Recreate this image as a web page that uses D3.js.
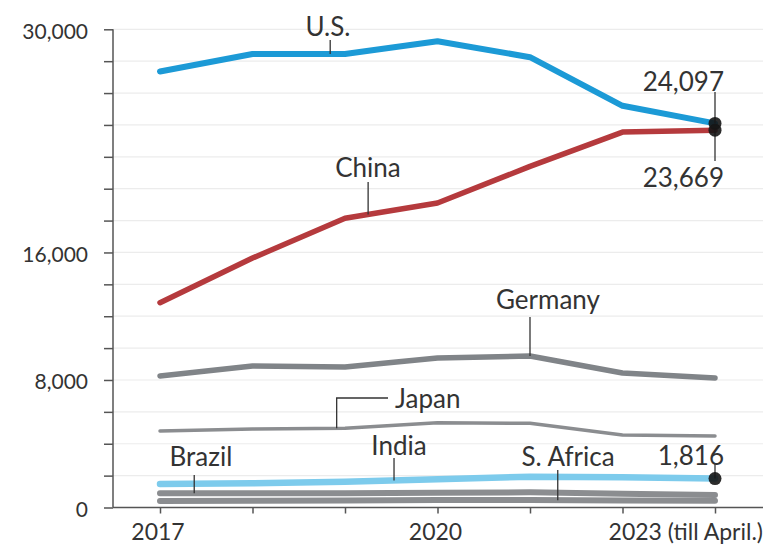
<!DOCTYPE html>
<html>
<head>
<meta charset="utf-8">
<script src="https://cdn.jsdelivr.net/npm/d3@7"></script>
<style>
  html, body { margin: 0; padding: 0; background: #fff; }
  svg { display: block; }
  text { font-family: Lato, "Noto Sans", sans-serif; fill: #333; }
</style>
</head>
<body>
<svg id="chart" width="767" height="547"></svg>
<script>
// Years on the x axis
const years = [2017, 2018, 2019, 2020, 2021, 2022, 2023];

// Series values per year
const usValues      = [27350, 28450, 28450, 29250, 28250, 25200, 24097];
const chinaValues   = [12850, 15650, 18150, 19100, 21400, 23550, 23669];
const germanyValues = [8250, 8880, 8820, 9380, 9500, 8440, 8130];
const japanValues   = [4800, 4920, 4970, 5320, 5280, 4550, 4480];
const indiaValues   = [1470, 1520, 1620, 1770, 1930, 1890, 1816];
const brazilValues  = [890, 900, 900, 920, 950, 860, 780];
const safricaValues = [410, 430, 440, 470, 470, 440, 430];

// Axis tick labels
const yTickValues = [0, 8000, 16000, 30000];
const xTickLabels = ["2017", "2020", "2023 (till April.)"];

const svg = d3.select("#chart");

const x = d3.scaleLinear().domain([2017, 2023]).range([160, 715]);
const y = d3.scaleLinear().domain([0, 30000]).range([507.5, 29.3]);

const axisLeftX = 113, axisRightX = 763;

// light grid every 2,000
const gridVals = d3.range(2000, 30001, 2000);
svg.append("g").selectAll("line").data(gridVals).join("line")
  .attr("x1", axisLeftX).attr("x2", axisRightX)
  .attr("y1", d => y(d)).attr("y2", d => y(d))
  .attr("stroke", "#ececec").attr("stroke-width", 1.2);

// y axis
const yAxis = d3.axisLeft(y)
  .tickValues(d3.range(0, 30001, 2000))
  .tickSize(9)
  .tickFormat(d => yTickValues.includes(d) ? d3.format(",")(d) : "");
const gy = svg.append("g").attr("transform", `translate(${axisLeftX},0)`).call(yAxis);
gy.select(".domain").attr("stroke", "#555").attr("stroke-width", 1.5)
  .attr("d", `M0,${y(30000)}V${y(0)}`);
gy.selectAll(".tick line").attr("stroke", "#555").attr("stroke-width", 1.5);
gy.selectAll(".tick text").attr("x", -25).attr("dy", "0.42em")
  .style("font-size", "21px").style("font-family", "Lato, sans-serif").attr("fill", "#333");

// x axis
const gx = svg.append("g").attr("transform", `translate(0,${y(0)})`)
  .call(d3.axisBottom(x).tickValues(years).tickSize(6).tickFormat(""));
gx.select(".domain").attr("stroke", "#555").attr("stroke-width", 1.5)
  .attr("d", `M${axisLeftX},0H${axisRightX}`);
gx.selectAll(".tick line").attr("stroke", "#555").attr("stroke-width", 1.5);

const xLabelYears = [2017, 2020, 2023];
xLabelYears.forEach((yr, i) => {
  const last = i === xLabelYears.length - 1;
  svg.append("text")
    .attr("x", last ? axisRightX : x(yr) - 2)
    .attr("y", 531)
    .attr("text-anchor", last ? "end" : "middle")
    .attr("dominant-baseline", "central")
    .style("font-size", "23px")
    .text(xTickLabels[i]);
});

// lines
const line = d3.line().x((d, i) => x(years[i])).y(d => y(d));

const series = [
  { name: "S. Africa", values: safricaValues, color: "#8b8d90", width: 6 },
  { name: "Brazil",    values: brazilValues,  color: "#8b8d90", width: 6 },
  { name: "Japan",     values: japanValues,   color: "#8b8d90", width: 3.5 },
  { name: "Germany",   values: germanyValues, color: "#808488", width: 5.5 },
  { name: "India",     values: indiaValues,   color: "#7dcbec", width: 6.5 },
  { name: "China",     values: chinaValues,   color: "#b53a3d", width: 5.5 },
  { name: "U.S.",      values: usValues,      color: "#1c9ad6", width: 6 }
];

svg.append("g").selectAll("path").data(series).join("path")
  .attr("d", d => line(d.values))
  .attr("fill", "none")
  .attr("stroke", d => d.color)
  .attr("stroke-width", d => d.width)
  .attr("stroke-linecap", "round")
  .attr("stroke-linejoin", "round");

// value along a series at a fractional year
function valueAt(values, yr) {
  const i = Math.min(Math.floor(yr - 2017), years.length - 2);
  const t = yr - years[i];
  return values[i] + (values[i + 1] - values[i]) * t;
}

// series name labels with leader lines
const nameLabels = [
  { name: "U.S.",      year: 2018.84, top: 40,  tx: 328, ty: 26,  anchor: "middle" },
  { name: "China",     year: 2019.25, top: 182, tx: 368, ty: 167, anchor: "middle" },
  { name: "Germany",   year: 2021.0,  top: 317, tx: 548, ty: 299, anchor: "middle" },
  { name: "India",     year: 2019.53, top: 458, tx: 399, ty: 445, anchor: "middle" },
  { name: "Brazil",    year: 2017.37, top: 475, tx: 201, ty: 456, anchor: "middle" },
  { name: "S. Africa", year: 2021.3,  top: 470, tx: 568, ty: 456, anchor: "middle" }
];
const byName = Object.fromEntries(series.map(s => [s.name, s]));

nameLabels.forEach(l => {
  const px = x(l.year);
  svg.append("line")
    .attr("x1", px).attr("x2", px)
    .attr("y1", l.top).attr("y2", y(valueAt(byName[l.name].values, l.year)))
    .attr("stroke", "#333").attr("stroke-width", 1.3);
  svg.append("text")
    .attr("x", l.tx).attr("y", l.ty)
    .attr("text-anchor", l.anchor)
    .attr("dominant-baseline", "central")
    .style("font-size", "26px")
    .text(l.name);
});

// Japan label with elbow leader
{
  const yr = 2018.91;
  const px = x(yr);
  const py = y(valueAt(japanValues, yr));
  svg.append("path")
    .attr("d", `M${px},${py}V398H388`)
    .attr("fill", "none").attr("stroke", "#333").attr("stroke-width", 1.3);
  svg.append("text")
    .attr("x", 395).attr("y", 398)
    .attr("dominant-baseline", "central")
    .style("font-size", "26px")
    .text("Japan");
}

// end-point values
const endPoints = [
  { values: usValues,    labelY: 81,  leaderEnd: 92 },
  { values: chinaValues, labelY: 177, leaderEnd: 161 },
  { values: indiaValues, labelY: 455, leaderEnd: 464 }
];
const lastIdx = years.length - 1;
endPoints.forEach(p => {
  const px = x(years[lastIdx]);
  const py = y(p.values[lastIdx]);
  svg.append("line")
    .attr("x1", px).attr("x2", px)
    .attr("y1", p.leaderEnd).attr("y2", py)
    .attr("stroke", "#333").attr("stroke-width", 1.3);
});
endPoints.forEach(p => {
  const px = x(years[lastIdx]);
  const py = y(p.values[lastIdx]);
  svg.append("circle")
    .attr("cx", px).attr("cy", py).attr("r", 6.5)
    .attr("fill", "#151515").attr("fill-opacity", 0.9);
  svg.append("text")
    .attr("x", 724).attr("y", p.labelY)
    .attr("text-anchor", "end")
    .attr("dominant-baseline", "central")
    .style("font-size", "26px")
    .text(d3.format(",")(p.values[lastIdx]));
});
</script>
</body>
</html>
